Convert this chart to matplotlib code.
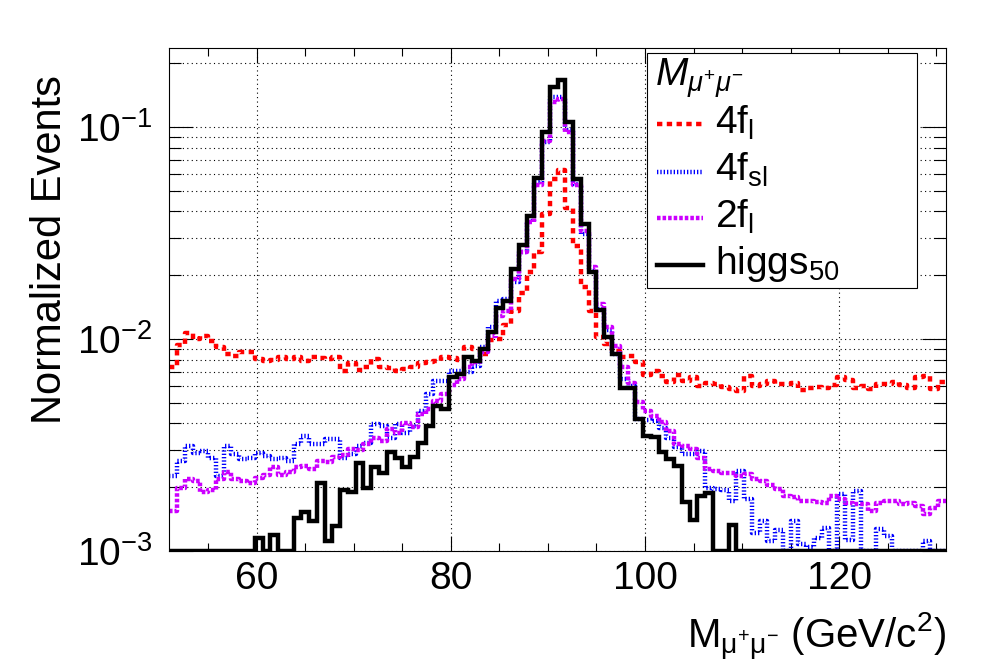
import matplotlib
matplotlib.use('Agg')
import matplotlib.pyplot as plt
import numpy as np
from matplotlib.lines import Line2D
from matplotlib.patches import Rectangle
from matplotlib.ticker import LogLocator, NullFormatter, MultipleLocator, LogFormatterMathtext

plt.rcParams['font.family'] = ['Liberation Sans', 'DejaVu Sans']
plt.rcParams['mathtext.fontset'] = 'custom'
plt.rcParams['mathtext.rm'] = 'Liberation Sans'
plt.rcParams['mathtext.it'] = 'Liberation Sans:italic'
plt.rcParams['mathtext.bf'] = 'Liberation Sans:bold'

# histogram binning: 100 bins, 51 - 131 GeV
x_min, x_max, n_bins = 51, 131, 100
y_min, y_max = 1e-3, 0.237

# normalized events per bin
f4_l = [7.4e-3, 9.37e-3, 1.064e-2, 1.0e-2, 1.03e-2, 9.83e-3, 9.14e-3, 8.5e-3, 8.3e-3, 8.65e-3,
        8.65e-3, 8.05e-3, 7.9e-3, 7.95e-3, 8.2e-3, 8.05e-3, 8.25e-3, 7.9e-3, 8.2e-3, 8.1e-3,
        8.05e-3, 8.2e-3, 7.1e-3, 7.7e-3, 7.15e-3, 7.4e-3, 8.05e-3, 7.35e-3, 7.3e-3, 7.1e-3,
        7.2e-3, 7.35e-3, 7.7e-3, 7.8e-3, 7.9e-3, 8.25e-3, 8.15e-3, 7.95e-3, 9.2e-3, 8.95e-3,
        8.5e-3, 9.9e-3, 1.0e-2, 1.16e-2, 1.36e-2, 1.65e-2, 2.07e-2, 2.57e-2, 3.90e-2, 5.67e-2,
        6.3e-2, 4.17e-2, 2.76e-2, 1.77e-2, 1.36e-2, 1.02e-2, 9.5e-3, 8.8e-3, 8.2e-3, 8.3e-3,
        7.8e-3, 6.8e-3, 7.1e-3, 6.7e-3, 6.25e-3, 6.8e-3, 6.35e-3, 6.65e-3, 6.0e-3, 6.2e-3,
        6.15e-3, 5.95e-3, 5.8e-3, 5.7e-3, 6.7e-3, 6.0e-3, 6.15e-3, 6.35e-3, 6.15e-3, 6.15e-3,
        6.2e-3, 5.75e-3, 5.9e-3, 5.95e-3, 5.85e-3, 6.1e-3, 6.6e-3, 6.4e-3, 5.85e-3, 6.0e-3,
        5.8e-3, 6.15e-3, 6.15e-3, 6.25e-3, 6.1e-3, 5.9e-3, 6.6e-3, 6.7e-3, 5.8e-3, 6.25e-3]

f4_sl = [2.26e-3, 2.66e-3, 3.13e-3, 2.91e-3, 2.97e-3, 2.76e-3, 2.26e-3, 3.13e-3, 2.87e-3, 2.71e-3,
         2.76e-3, 2.89e-3, 2.81e-3, 2.71e-3, 2.76e-3, 2.66e-3, 3.19e-3, 3.49e-3, 3.19e-3, 3.19e-3,
         3.37e-3, 3.37e-3, 2.76e-3, 2.87e-3, 3.13e-3, 3.25e-3, 3.97e-3, 3.9e-3, 3.43e-3, 3.97e-3,
         3.62e-3, 3.9e-3, 4.58e-3, 5.5e-3, 6.36e-3, 6.36e-3, 7.09e-3, 7.09e-3, 6.96e-3, 7.49e-3,
         9.14e-3, 1.136e-2, 1.52e-2, 1.55e-2, 1.85e-2, 2.57e-2, 3.62e-2, 5.5e-2, 8.5e-2, 0.139,
         0.139, 9.66e-2, 5.41e-2, 3.14e-2, 2.1e-2, 1.39e-2, 1.1e-2, 8.5e-3, 6.5e-3, 6.0e-3,
         4.2e-3, 4.15e-3, 4.1e-3, 3.8e-3, 3.4e-3, 3.1e-3, 2.88e-3, 2.88e-3, 2.97e-3, 1.99e-3,
         1.97e-3, 1.93e-3, 1.72e-3, 2.39e-3, 1.76e-3, 1.22e-3, 1.39e-3, 1.11e-3, 1.25e-3, 0,
         1.39e-3, 1.075e-3, 1.04e-3, 1.155e-3, 1.29e-3, 0, 1.85e-3, 1.13e-3, 1.92e-3, 0,
         0, 1.27e-3, 1.18e-3, 0, 0, 0, 0, 1.11e-3, 0, 0]

f2_l = [1.55e-3, 1.99e-3, 2.18e-3, 2.14e-3, 1.89e-3, 1.94e-3, 2.18e-3, 2.37e-3, 2.18e-3, 2.15e-3,
        2.1e-3, 2.22e-3, 2.28e-3, 2.49e-3, 2.28e-3, 2.37e-3, 2.49e-3, 2.52e-3, 2.45e-3, 2.66e-3,
        2.64e-3, 2.78e-3, 2.85e-3, 3.03e-3, 3.0e-3, 3.19e-3, 3.4e-3, 3.31e-3, 3.76e-3, 3.6e-3,
        4.0e-3, 3.83e-3, 4.43e-3, 4.7e-3, 5.11e-3, 5.5e-3, 6.1e-3, 6.5e-3, 7.4e-3, 7.8e-3,
        8.7e-3, 1.03e-2, 1.28e-2, 1.35e-2, 1.92e-2, 2.57e-2, 3.56e-2, 5.31e-2, 8.59e-2, 0.1315,
        0.1364, 9.48e-2, 5.31e-2, 3.25e-2, 2.18e-2, 1.47e-2, 1.135e-2, 9.3e-3, 7.35e-3, 6.2e-3,
        5.02e-3, 4.59e-3, 4.35e-3, 4.04e-3, 3.69e-3, 3.19e-3, 3.13e-3, 3.02e-3, 2.76e-3, 2.43e-3,
        2.39e-3, 2.34e-3, 2.34e-3, 2.26e-3, 2.30e-3, 2.18e-3, 2.14e-3, 2.05e-3, 1.97e-3, 1.82e-3,
        1.79e-3, 1.72e-3, 1.73e-3, 1.71e-3, 1.69e-3, 1.82e-3, 1.76e-3, 1.69e-3, 1.66e-3, 1.66e-3,
        1.55e-3, 1.69e-3, 1.72e-3, 1.72e-3, 1.66e-3, 1.69e-3, 1.63e-3, 1.49e-3, 1.60e-3, 1.72e-3]

higgs_50 = [0, 0, 0, 0, 0, 0, 0, 0, 0, 0,
            0, 1.15e-3, 0, 1.19e-3, 0, 0, 1.43e-3, 1.52e-3, 1.39e-3, 2.10e-3,
            1.11e-3, 1.31e-3, 1.94e-3, 1.89e-3, 2.59e-3, 1.99e-3, 2.49e-3, 2.34e-3, 2.92e-3, 2.74e-3,
            2.50e-3, 2.78e-3, 3.23e-3, 3.90e-3, 4.81e-3, 4.68e-3, 6.64e-3, 6.84e-3, 8.19e-3, 7.91e-3,
            8.98e-3, 1.076e-2, 1.40e-2, 1.52e-2, 2.14e-2, 2.79e-2, 3.80e-2, 5.77e-2, 9.49e-2, 0.1545,
            0.166, 0.1057, 5.71e-2, 3.50e-2, 2.07e-2, 1.37e-2, 1.02e-2, 8.5e-3, 5.9e-3, 5.9e-3,
            4.19e-3, 3.49e-3, 3.45e-3, 2.94e-3, 2.73e-3, 2.52e-3, 1.70e-3, 1.40e-3, 1.82e-3, 1.87e-3,
            0, 0, 1.33e-3, 0, 0, 0, 0, 0, 0, 0,
            0, 0, 0, 0, 0, 0, 0, 0, 0, 0,
            0, 0, 0, 0, 0, 0, 0, 0, 0, 0]

edges = np.linspace(x_min, x_max, n_bins + 1)

W, H = 996, 672


def fx(px):
    return px / W


def fy(py):
    return 1 - py / H


def step_xy(vals):
    # ROOT draws empty bins on the bottom of a log axis
    v = np.maximum(np.asarray(vals, dtype=float), y_min)
    return np.repeat(edges, 2)[1:-1], np.repeat(v, 2)


styles = {
    'red': dict(color='#ff0000', lw=3.2, linestyle=(0, (1.2, 1.0)), dash_capstyle='butt'),
    'blue': dict(color='#0000ff', lw=3.2, linestyle=(0, (0.3, 0.45)), dash_capstyle='butt'),
    'violet': dict(color='#cc00ff', lw=3.2, linestyle=(0, (0.8, 0.45)), dash_capstyle='butt'),
    'black': dict(color='black', lw=3.2, linestyle='-', solid_joinstyle='miter'),
}

fig = plt.figure(figsize=(W / 100, H / 100), dpi=100)
ax = fig.add_axes([fx(169.3), fy(551), (946 - 169.3) / W, (551 - 47.7) / H])

ax.plot(*step_xy(f4_l), **styles['red'])
ax.plot(*step_xy(f4_sl), **styles['blue'])
ax.plot(*step_xy(f2_l), **styles['violet'])
ax.plot(*step_xy(higgs_50), **styles['black'])

ax.set_yscale('log')
ax.set_xlim(x_min, x_max)
ax.set_ylim(y_min, y_max)

ax.xaxis.set_major_locator(MultipleLocator(20))
ax.xaxis.set_minor_locator(MultipleLocator(5))
ax.yaxis.set_major_locator(LogLocator(base=10))
ax.yaxis.set_minor_locator(LogLocator(base=10, subs=np.arange(2, 10)))
ax.yaxis.set_major_formatter(LogFormatterMathtext())
ax.yaxis.set_minor_formatter(NullFormatter())

ax.tick_params(which='both', direction='in', top=True, right=True, width=0.8, labelsize=28)
ax.tick_params(axis='x', which='major', length=11, pad=7)
ax.tick_params(axis='x', which='minor', length=5.5)
ax.tick_params(axis='y', which='major', length=17, pad=12)
ax.tick_params(axis='y', which='minor', length=8.5)

ax.grid(True, axis='x', which='major', color='black', lw=0.8, linestyle=(0, (1, 3)))
ax.grid(True, axis='y', which='both', color='black', lw=0.8, linestyle=(0, (1, 3)))
ax.set_axisbelow(True)
for s in ax.spines.values():
    s.set_linewidth(0.8)

fig.text(fx(50), fy(75), 'Normalized Events', rotation=90, ha='center', va='top', fontsize=30)
fig.text(fx(946), fy(648), r'M$_{\mathrm{μ^{+}μ^{-}}}$ (GeV/c$^{2}$)', ha='right', va='baseline',
         fontsize=29)

# legend box
fig.add_artist(Rectangle((fx(647.3), fy(288)), (916.7 - 647.3) / W, (288 - 53.3) / H,
                         transform=fig.transFigure, facecolor='white', edgecolor='black', lw=0.8))
fig.text(fx(655), fy(87), r'$M_{μ^{+}μ^{-}}$', ha='left', va='baseline', fontsize=28)
entries = [('red', r'4f$_{\mathrm{l}}$'), ('blue', r'4f$_{\mathrm{sl}}$'),
           ('violet', r'2f$_{\mathrm{l}}$'), ('black', r'higgs$_{\mathrm{50}}$')]
line_y = [124.3, 171.7, 218.3, 265]
text_y = [134, 181, 228, 274]
for (key, label), ly, ty in zip(entries, line_y, text_y):
    fig.add_artist(Line2D([fx(656.7), fx(703.3)], [fy(ly), fy(ly)], transform=fig.transFigure,
                          **styles[key]))
    fig.text(fx(715), fy(ty), label, ha='left', va='baseline', fontsize=28)

fig.savefig('out.png', dpi=100)
